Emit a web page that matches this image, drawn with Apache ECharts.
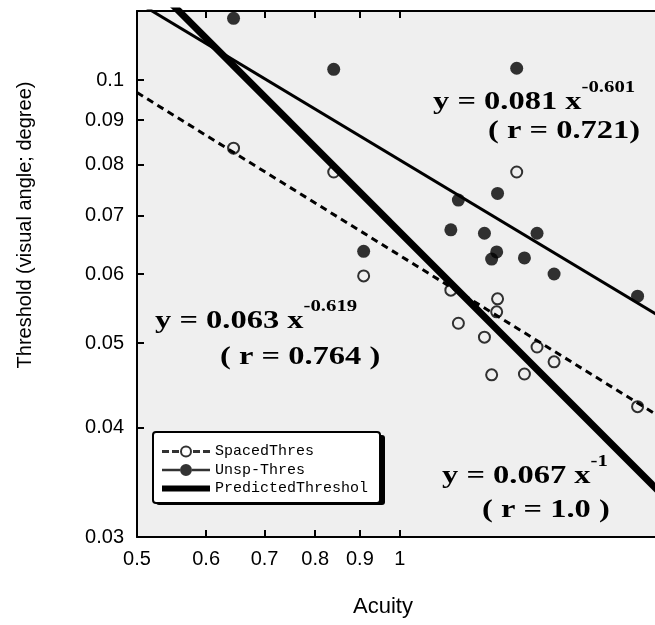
<!DOCTYPE html>
<html>
<head>
<meta charset="utf-8">
<title>Threshold vs Acuity</title>
<script src="https://cdn.jsdelivr.net/npm/echarts@6/dist/echarts.min.js"></script>
<style>
  html, body { margin: 0; padding: 0; background: #fff; }
  #chart { width: 655px; height: 625px; }
</style>
</head>
<body>
<div id="chart"></div>
<script>
// acuity of each observer, shared by both threshold sets
const acuity = [0.645, 0.840, 0.909, 1.144, 1.167, 1.250, 1.274, 1.291, 1.294, 1.361, 1.389, 1.436, 1.502, 1.872];
const spacedThres = [0.0836, 0.0785, 0.0597, 0.0575, 0.0527, 0.0508, 0.0460, 0.0543, 0.0562, 0.0785, 0.0461, 0.0495, 0.0476, 0.0423];
const unspThres = [0.1177, 0.1029, 0.0637, 0.0674, 0.0729, 0.0668, 0.0624, 0.0636, 0.0742, 0.1032, 0.0626, 0.0668, 0.0600, 0.0566];

// end points of the fitted / predicted lines
const fitX = [0.5, 2.0];
const spacedFit = [0.0968, 0.0410];
const unspFit = [0.1229, 0.0534];
const predictedFit = [0.134, 0.0335];

const xTicks = [0.5, 0.6, 0.7, 0.8, 0.9, 1];
const yTicks = [0.03, 0.04, 0.05, 0.06, 0.07, 0.08, 0.09, 0.1];

const chart = echarts.init(document.getElementById("chart"));

const pairs = (xs, ys) => xs.map((x, i) => [x, ys[i]]);
const fmt = (v) => String(+(+v).toPrecision(3));

// legend icons (48 x 12 boxes)
const ring = "M18,6a6,6 0 1,0 12,0a6,6 0 1,0 -12,0z M20,6a4,4 0 1,1 8,0a4,4 0 1,1 -8,0z";
const dot = "M18,6a6,6 0 1,0 12,0a6,6 0 1,0 -12,0z";
const spacedIcon = "path://M0,4.5h7v3h-7z M10,4.5h7v3h-7z M31,4.5h7v3h-7z M41,4.5h7v3h-7z " + ring;
const unspIcon = "path://M0,4.8h18v2.4h-18z M30,4.8h18v2.4h-18z " + dot;
const predIcon = "path://M0,3h48v6h-48z";

const axisColor = "#000";
const tickStyle = { inside: true, length: 7, lineStyle: { color: axisColor, width: 2 } };
const labelFont = { fontFamily: "Liberation Sans", fontSize: 20, color: "#000" };

const eqFont = { fontFamily: "Liberation Serif", fontWeight: "bold", fontSize: 25 };
const eqRich = {
  m: { fontFamily: "Liberation Serif", fontWeight: "bold", fontSize: 25 },
  s: { fontFamily: "Liberation Serif", fontWeight: "bold", fontSize: 16, padding: [0, 0, 30, 0] },
};

function equation(x, y, main, sup) {
  return {
    type: "text", x: x, y: y, scaleX: 1.3, z: 10,
    style: { text: "{m|" + main + "}{s|" + sup + "}", rich: eqRich, fill: "#000", align: "left", verticalAlign: "middle" },
  };
}
function rLine(x, y, txt) {
  return {
    type: "text", x: x, y: y, scaleX: 1.3, z: 10,
    style: Object.assign({ text: txt, fill: "#000", align: "left", verticalAlign: "middle" }, eqFont),
  };
}

const option = {
  animation: false,
  backgroundColor: "#fff",
  grid: {
    left: 137, right: 0, top: 11, bottom: 88,
    show: true, backgroundColor: "#efefef", borderWidth: 0,
    outerBoundsMode: "none",
  },
  xAxis: [
    {
      type: "log", min: 0.5, max: 1.96, position: "bottom",
      axisLine: { lineStyle: { color: axisColor, width: 2 } },
      axisTick: Object.assign({ customValues: xTicks }, tickStyle),
      axisLabel: Object.assign({ customValues: xTicks, margin: 12, formatter: fmt }, labelFont),
      splitLine: { show: false },
    },
    {
      type: "log", min: 0.5, max: 1.96, position: "top",
      axisLine: { lineStyle: { color: axisColor, width: 2 } },
      axisTick: Object.assign({ customValues: xTicks }, tickStyle),
      axisLabel: { show: false },
      splitLine: { show: false },
    },
  ],
  yAxis: {
    type: "log", min: 0.03, max: 0.12,
    axisLine: { show: true, lineStyle: { color: axisColor, width: 2 } },
    axisTick: Object.assign({ customValues: yTicks }, tickStyle),
    axisLabel: Object.assign({ customValues: yTicks, margin: 13, formatter: fmt }, labelFont),
    splitLine: { show: false },
  },
  legend: {
    orient: "vertical", left: 153, top: 432, z: 10,
    padding: [12, 12, 7, 9],
    itemWidth: 48, itemHeight: 12, itemGap: 3.5,
    selectedMode: false,
    backgroundColor: "#fff", borderColor: "#000", borderWidth: 2, borderRadius: 3,
    textStyle: { fontFamily: "Liberation Mono", fontSize: 15, color: "#000", width: 156, overflow: "truncate", ellipsis: "" },
    data: [
      { name: "SpacedThres", icon: spacedIcon, itemStyle: { color: "#000", borderWidth: 0 } },
      { name: "Unsp-Thres", icon: unspIcon, itemStyle: { color: "#000", borderWidth: 0 } },
      { name: "PredictedThreshold", icon: predIcon, itemStyle: { color: "#000", borderWidth: 0 } },
    ],
  },
  series: [
    {
      name: "spacedFit", type: "line", data: pairs(fitX, spacedFit),
      showSymbol: false, silent: true, z: 2,
      lineStyle: { color: "#000", width: 3, type: [7, 5] },
    },
    {
      name: "unspFit", type: "line", data: pairs(fitX, unspFit),
      showSymbol: false, silent: true, z: 2,
      lineStyle: { color: "#000", width: 3 },
    },
    {
      name: "PredictedThreshold", type: "line", data: pairs(fitX, predictedFit),
      showSymbol: false, silent: true, z: 2,
      itemStyle: { color: "#000" },
      lineStyle: { color: "#000", width: 7 },
    },
    {
      name: "SpacedThres", type: "scatter", data: pairs(acuity, spacedThres),
      symbol: "circle", symbolSize: 11, z: 3,
      itemStyle: { color: "rgba(0,0,0,0)", borderColor: "#000", borderWidth: 2 },
    },
    {
      name: "Unsp-Thres", type: "scatter", data: pairs(acuity, unspThres),
      symbol: "circle", symbolSize: 13, z: 3,
      itemStyle: { color: "#000" },
    },
  ],
  graphic: [
    // drop shadow behind the legend box
    {
      type: "rect", z: 5, silent: true,
      shape: { x: 156, y: 435, width: 229, height: 70, r: 3 },
      style: { fill: "#000" },
    },
    {
      type: "text", x: 25, y: 225, rotation: Math.PI / 2,
      style: { text: "Threshold (visual angle; degree)", fontFamily: "Liberation Sans", fontSize: 20, fill: "#000", align: "center", verticalAlign: "middle" },
    },
    {
      type: "text", x: 383, y: 607,
      style: { text: "Acuity", fontFamily: "Liberation Sans", fontSize: 22, fill: "#000", align: "center", verticalAlign: "middle" },
    },
    equation(433, 103, "y = 0.081 x", "-0.601"),
    rLine(488, 132, "( r = 0.721)"),
    equation(155, 322, "y = 0.063 x", "-0.619"),
    rLine(220, 358, "( r = 0.764 )"),
    equation(442, 477, "y = 0.067 x", "-1"),
    rLine(482, 511, "( r = 1.0 )"),
  ],
};

chart.setOption(option);
</script>
</body>
</html>
